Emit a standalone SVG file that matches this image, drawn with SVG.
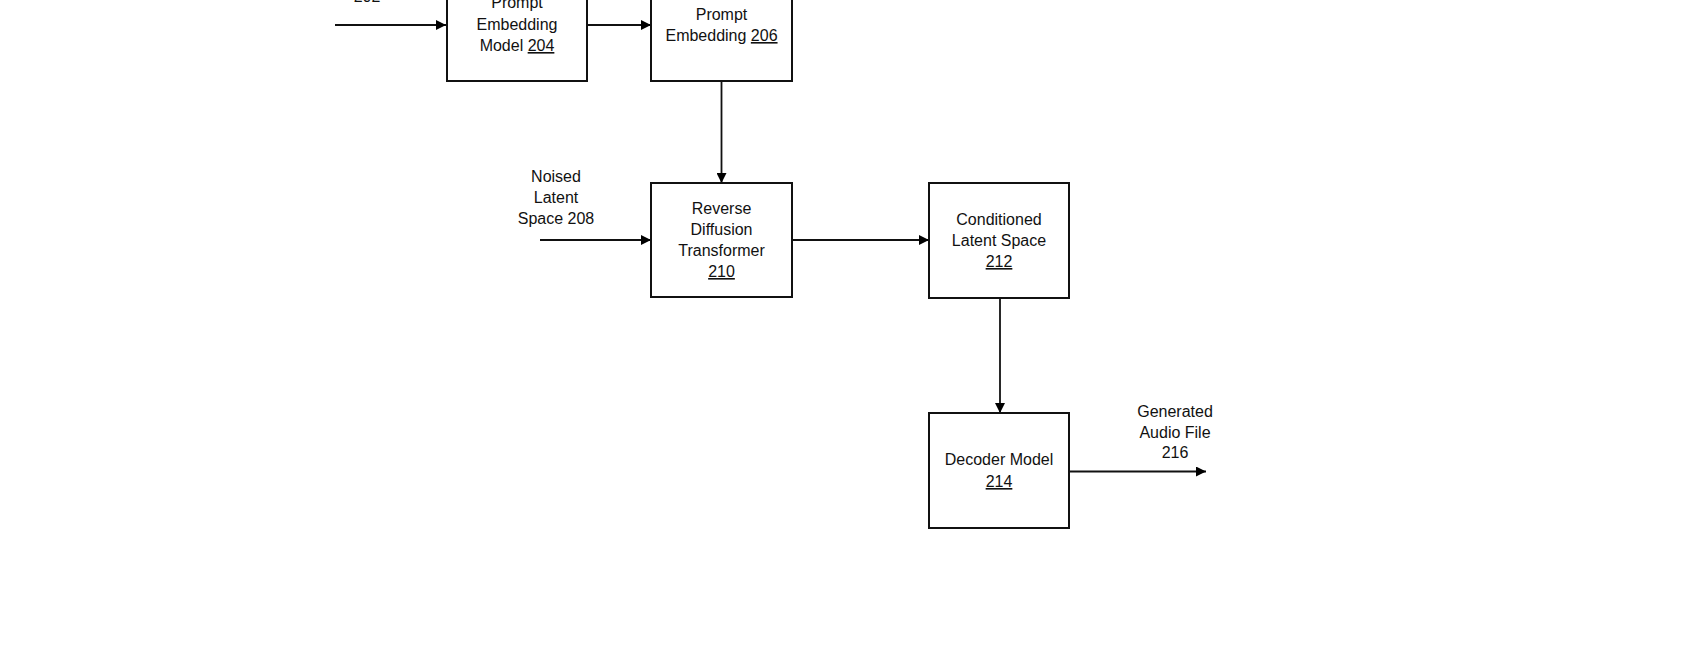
<svg xmlns="http://www.w3.org/2000/svg" width="1700" height="650" viewBox="0 0 1700 650">
<defs>
<marker id="ah" viewBox="0 0 10 10" refX="10" refY="5" markerWidth="10" markerHeight="10" markerUnits="userSpaceOnUse" orient="auto"><path d="M0,0 L10,5 L0,10 z" fill="#000"/></marker>
<style>
text{font-family:"Liberation Sans",Arial,sans-serif;font-size:16px;fill:#111;text-anchor:middle}
.b{fill:#fff;stroke:#111;stroke-width:2}
.c{stroke:#111;stroke-width:1.8;fill:none;marker-end:url(#ah)}
.u{text-decoration:underline}
</style>
</defs>
<rect width="1700" height="650" fill="#fff"/>
<g id="connectors">
<path class="c" d="M335,25 H446"/>
<path class="c" d="M587,25 H651"/>
<path class="c" d="M721.5,81 V183"/>
<path class="c" d="M540,240 H651"/>
<path class="c" d="M792,240 H929"/>
<path class="c" d="M1000,298 V413"/>
<path class="c" d="M1069,471.5 H1206"/>
</g>
<g id="label202"><text x="367" y="2">202</text></g>
<g id="n204"><rect class="b" x="447" y="-33" width="140" height="114"/>
<text x="517" y="8">Prompt</text><text x="517" y="30">Embedding</text><text x="517" y="51">Model <tspan class="u">204</tspan></text></g>
<g id="n206"><rect class="b" x="651" y="-33" width="141" height="114"/>
<text x="721.5" y="20">Prompt</text><text x="721.5" y="41">Embedding <tspan class="u">206</tspan></text></g>
<g id="label208"><text x="556" y="182">Noised</text><text x="556" y="203">Latent</text><text x="556" y="224">Space 208</text></g>
<g id="n210"><rect class="b" x="651" y="183" width="141" height="114"/>
<text x="721.5" y="214">Reverse</text><text x="721.5" y="235">Diffusion</text><text x="721.5" y="256">Transformer</text><text x="721.5" y="277" class="u">210</text></g>
<g id="n212"><rect class="b" x="929" y="183" width="140" height="115"/>
<text x="999" y="225">Conditioned</text><text x="999" y="246">Latent Space</text><text x="999" y="267" class="u">212</text></g>
<g id="n214"><rect class="b" x="929" y="413" width="140" height="115"/>
<text x="999" y="465">Decoder Model</text><text x="999" y="487" class="u">214</text></g>
<g id="label216"><text x="1175" y="417">Generated</text><text x="1175" y="438">Audio File</text><text x="1175" y="458">216</text></g>
</svg>
